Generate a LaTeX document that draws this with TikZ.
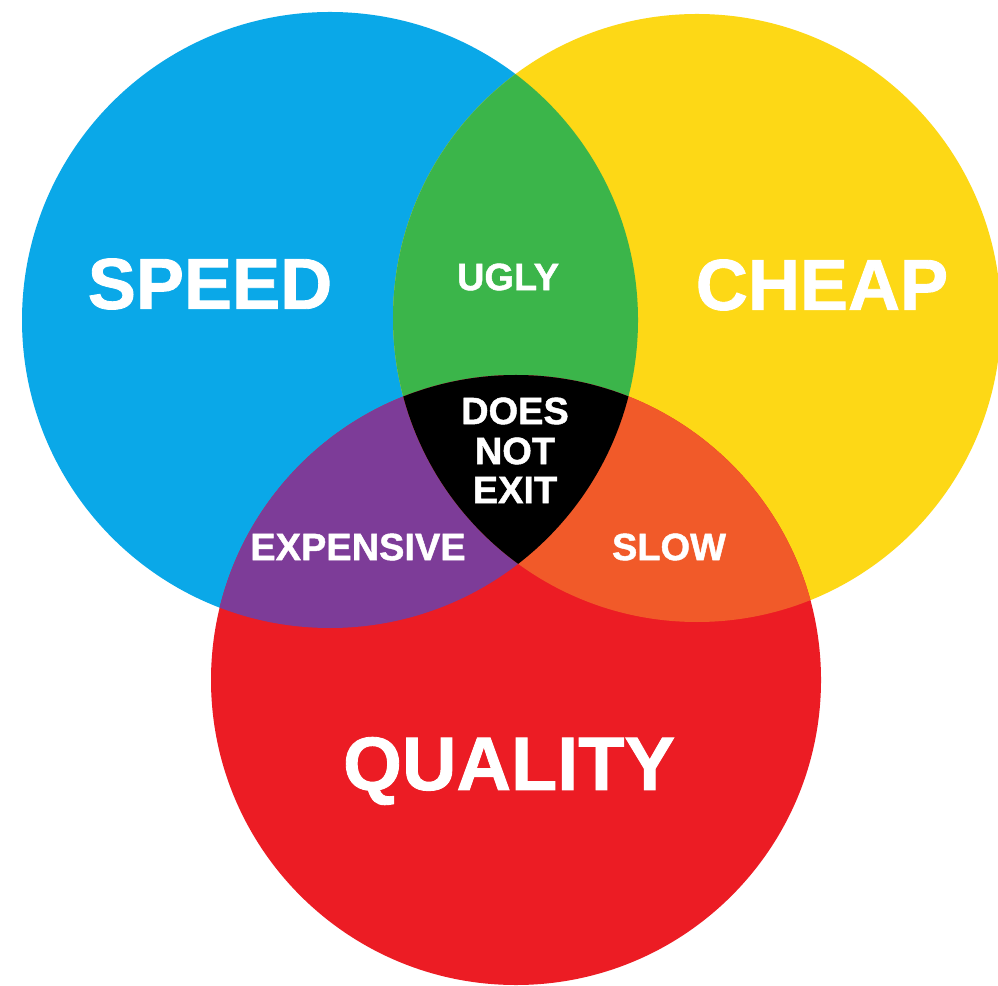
\documentclass[tikz,border=0pt]{standalone}
\usepackage{fontspec}
\setmainfont{Liberation Sans}[BoldFeatures={FakeBold=1.2}]
\definecolor{cblue}{HTML}{0AA8E8}
\definecolor{cyellow}{HTML}{FDD816}
\definecolor{cred}{HTML}{EC1C24}
\definecolor{cgreen}{HTML}{3BB54A}
\definecolor{cpurple}{HTML}{7D3C98}
\definecolor{corange}{HTML}{F15A29}
\tikzset{
  big/.style={text=white,font=\bfseries\fontsize{20.5pt}{24pt}\selectfont,inner sep=0pt},
  small/.style={text=white,font=\bfseries\fontsize{10.8pt}{13pt}\selectfont,inner sep=0pt}
}
\begin{document}
\begin{tikzpicture}[x=0.01cm,y=-0.01cm]
\useasboundingbox (0,0) rectangle (998,986);
\fill[white] (0,0) rectangle (998,986);
\coordinate (cb) at (330,320);
\coordinate (cy) at (697,318);
\coordinate (cr) at (516,680);
\def\rb{308}\def\ry{304}\def\rr{305}
\fill[cblue] (cb) circle[radius=\rb];
\fill[cyellow] (cy) circle[radius=\ry];
\fill[cred] (cr) circle[radius=\rr];
\begin{scope}
  \clip (cb) circle[radius=\rb];
  \fill[cgreen] (cy) circle[radius=\ry];
  \fill[cpurple] (cr) circle[radius=\rr];
\end{scope}
\begin{scope}
  \clip (cy) circle[radius=\ry];
  \fill[corange] (cr) circle[radius=\rr];
  \clip (cb) circle[radius=\rb];
  \fill[black] (cr) circle[radius=\rr];
\end{scope}
\node[big] (speed) at (210,284) {SPEED};
\node[big] (cheap) at (822,285) {CHEAP};
\node[big,font=\bfseries\fontsize{21.5pt}{25pt}\selectfont] (quality) at (509,771) {QUALITY};
\node[small] (ugly) at (508,277) {UGLY};
\node[small] (does) at (515,411) {DOES};
\node[small] (not) at (515,451) {NOT};
\node[small] (exit) at (515,490) {EXIT};
\node[small] (expensive) at (358,547) {EXPENSIVE};
\node[small] (slow) at (669,547) {SLOW};
\end{tikzpicture}
\end{document}
